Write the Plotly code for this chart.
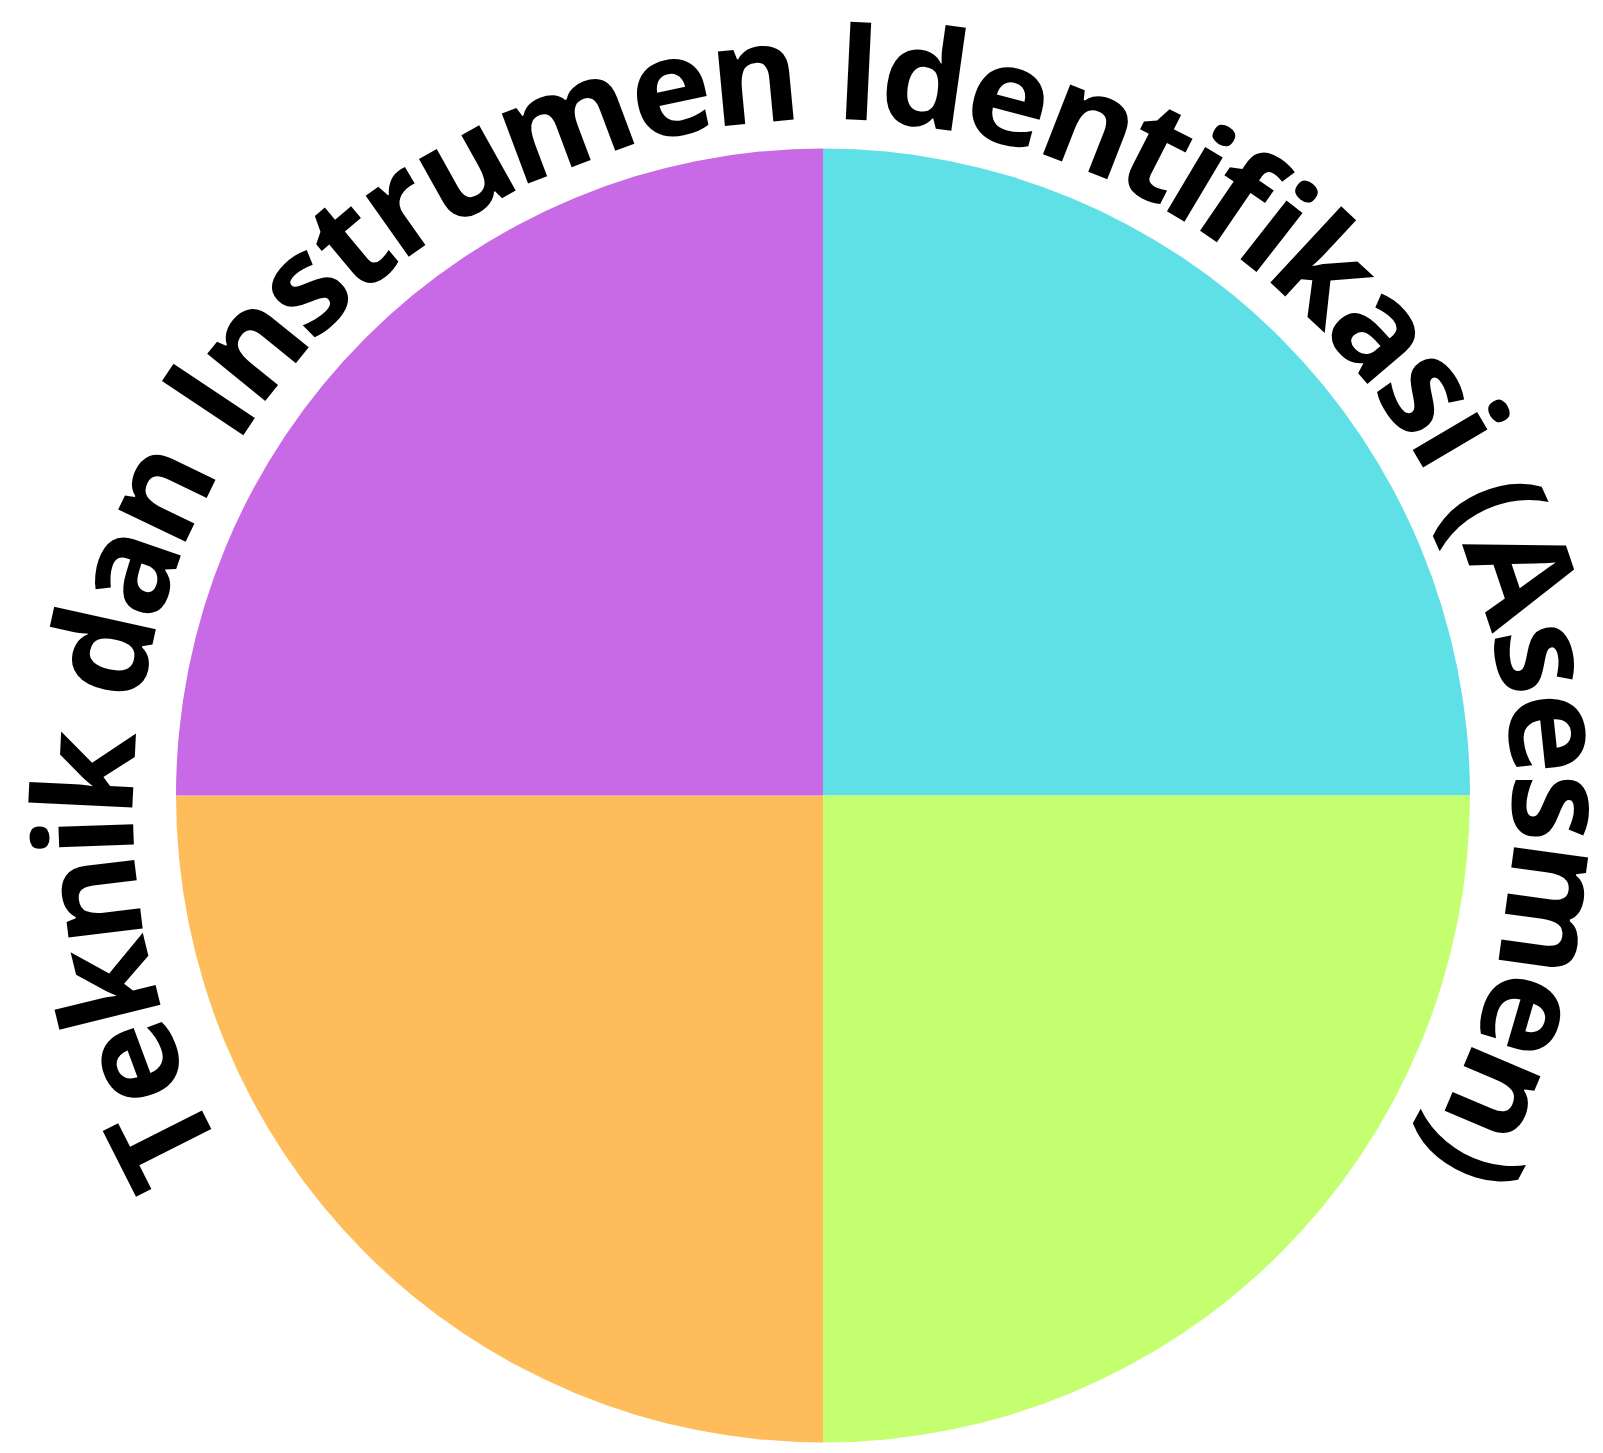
import math
import plotly.graph_objects as go

# ---- data ----
labels = ["Kuadran 1", "Kuadran 2", "Kuadran 3", "Kuadran 4"]
values = [1, 1, 1, 1]
colors = ["#5EE0E6", "#C3FF6E", "#FEBD5A", "#C86AE6"]
title_text = "Teknik dan Instrumen Identifikasi (Asesmen)"

# ---- layout constants ----
W, H = 1603, 1453
OFF = 8.0              # page body margin
cx, cy, r = 823.0 - OFF, 795.5 - OFF, 647.0
F = 137                # font size px
D_TXT = 14.0           # text circle centre is lower than pie centre
R_path = 726.0         # radius used for arc-length spacing
R_base = 690.0         # baseline radius
FAMILY = "Open Sans"

# approximate Open Sans Bold advance widths (em)
adv = {
    "T": .592, "e": .594, "k": .613, "n": .640, "i": .286, " ": .26,
    "d": .635, "a": .586, "I": .342, "s": .498, "t": .408, "r": .461,
    "u": .640, "m": .976, "f": .389, "(": .324, "A": .739, ")": .324,
}

fig = go.Figure()
fig.add_trace(go.Pie(
    labels=labels, values=values, sort=False, direction="clockwise", rotation=0,
    marker=dict(colors=colors, line=dict(width=0)),
    textinfo="none", hoverinfo="label", showlegend=False,
    domain=dict(x=[(cx - r) / W, (cx + r) / W], y=[1 - (cy + r) / H, 1 - (cy - r) / H]),
))

tcx, tcy = cx, cy + D_TXT
widths = [adv.get(c, .6) * F for c in title_text]
total = sum(widths)
annotations = []
s = 0.0
for ch, w in zip(title_text, widths):
    mid = s + w / 2
    s += w
    if ch == " ":
        continue
    theta = math.pi / 2 + (total / 2 - mid) / R_path
    Rc = R_base + 0.388 * F
    x = tcx + Rc * math.cos(theta)
    y = tcy - Rc * math.sin(theta)
    annotations.append(dict(
        x=x, y=y, xref="x", yref="y", text=ch, showarrow=False,
        xanchor="center", yanchor="middle", borderpad=0,
        textangle=90 - math.degrees(theta),
        font=dict(family=FAMILY, size=F, color="#000000", weight=700),
    ))

fig.update_layout(
    width=W, height=H, margin=dict(l=0, r=0, t=0, b=0),
    paper_bgcolor="white", plot_bgcolor="white",
    xaxis=dict(range=[0, W], visible=False, fixedrange=True),
    yaxis=dict(range=[H, 0], visible=False, fixedrange=True),
    annotations=annotations,
)
fig.write_html("out.html")
